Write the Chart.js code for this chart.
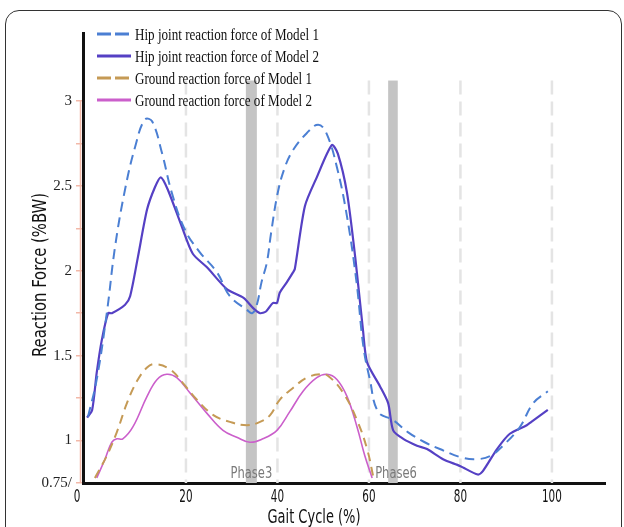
<!DOCTYPE html>
<html>
<head>
<meta charset="utf-8">
<script src="https://cdn.jsdelivr.net/npm/chart.js@4/dist/chart.umd.min.js"></script>
<style>
  html, body { margin: 0; padding: 0; background: #fff; }
  #wrap { position: relative; width: 624px; height: 527px; overflow: hidden; }
  #frame { position: absolute; left: 5px; top: 10px; width: 615px; height: 540px;
           border: 1.5px solid #333; border-radius: 14px; pointer-events: none; }
</style>
</head>
<body>
<div id="wrap">
  <canvas id="chart" width="624" height="527"></canvas>
  <div id="frame"></div>
</div>
<script>
// gait cycle (%) and reaction force (%BW)
var hip1X = [-1.4, 0.5, 2.7, 4.5, 6.7, 8.9, 11.0, 12.6, 14.8, 16.9, 19.8, 23.0, 26.8, 29.6, 33.3, 34.5, 35.5, 36.5, 37.7, 38.6, 40.0, 41.5, 43.4, 46.4, 48.9, 50.7, 53.0, 55.2, 57.3, 58.8, 60.2, 62.0, 65.3, 68.5, 72.2, 75.5, 80.3, 83.5, 86.6, 89.3, 93.0, 95.9, 99.1];
var hip1Y = [1.14, 1.36, 1.75, 2.14, 2.48, 2.73, 2.89, 2.88, 2.69, 2.46, 2.24, 2.11, 1.99, 1.85, 1.77, 1.75, 1.80, 1.93, 2.05, 2.22, 2.45, 2.60, 2.71, 2.81, 2.86, 2.81, 2.61, 2.32, 1.93, 1.55, 1.36, 1.17, 1.12, 1.05, 0.99, 0.95, 0.90, 0.89, 0.91, 0.97, 1.08, 1.22, 1.29];

var hip2X = [-1.6, -0.5, 0.5, 1.6, 3.0, 3.8, 6.7, 7.8, 9.5, 11.5, 13.2, 14.5, 16.0, 19.1, 21.5, 24.6, 29.0, 32.6, 34.7, 36.2, 37.5, 39.0, 39.9, 40.5, 42.0, 43.4, 43.8, 46.0, 48.6, 51.9, 53.2, 55.2, 57.0, 58.7, 59.6, 62.4, 64.2, 65.3, 67.5, 70.5, 72.7, 76.2, 79.9, 83.8, 84.9, 88.0, 90.8, 94.5, 95.5, 99.1];
var hip2Y = [1.135, 1.18, 1.40, 1.59, 1.75, 1.75, 1.80, 1.85, 2.08, 2.36, 2.49, 2.55, 2.48, 2.26, 2.10, 2.02, 1.89, 1.84, 1.78, 1.75, 1.76, 1.81, 1.81, 1.87, 1.93, 1.99, 2.01, 2.38, 2.55, 2.74, 2.69, 2.46, 2.08, 1.65, 1.46, 1.32, 1.22, 1.06, 1.01, 0.97, 0.95, 0.89, 0.85, 0.80, 0.82, 0.95, 1.04, 1.09, 1.11, 1.18];

var grf1X = [0.1, 2.7, 4.9, 7.1, 9.3, 11.5, 13.2, 16.5, 19.3, 22.4, 26.0, 29.6, 33.3, 36.2, 38.4, 40.5, 43.4, 46.4, 49.3, 51.1, 54.4, 57.4, 59.6, 61.0];
var grf1Y = [0.78, 0.91, 1.05, 1.22, 1.35, 1.43, 1.45, 1.42, 1.34, 1.24, 1.15, 1.11, 1.09, 1.11, 1.15, 1.24, 1.31, 1.37, 1.39, 1.38, 1.28, 1.12, 0.95, 0.78];

var grf2X = [0.5, 2.3, 3.8, 4.9, 6.2, 8.4, 11.5, 13.7, 15.8, 18.0, 20.9, 24.6, 28.1, 31.1, 34.0, 36.8, 39.9, 42.7, 45.6, 48.6, 50.8, 53.0, 55.2, 57.4, 59.1, 60.7];
var grf2Y = [0.78, 0.89, 0.99, 1.01, 1.01, 1.08, 1.26, 1.36, 1.39, 1.37, 1.28, 1.16, 1.06, 1.02, 0.99, 1.01, 1.06, 1.17, 1.29, 1.37, 1.39, 1.36, 1.26, 1.08, 0.91, 0.78];

var seriesNames = [
    'Hip joint reaction force of Model 1',
    'Hip joint reaction force of Model 2',
    'Ground reaction force of Model 1',
    'Ground reaction force of Model 2'
];

var xTicks = [0, 20, 40, 60, 80, 100];
var yTicks = [0.75, 1, 1.5, 2, 2.5, 3];
var yTickText = ['0.75/', '1', '1.5', '2', '2.5', '3'];

var phaseNames = ['Phase3', 'Phase6'];
var phaseFrom = [33.1, 64.2];
var phaseTo = [35.5, 66.3];
var guideTop = 3.12;

function pts(xs, ys) {
    return xs.map(function (x, i) { return { x: x, y: ys[i] }; });
}

var SANS = "'Liberation Sans Narrow', 'DejaVu Sans Condensed', 'Liberation Sans', sans-serif";
var SERIF = "'Liberation Serif', 'DejaVu Serif', serif";

// the source figure is horizontally squeezed, so text is drawn narrowed
function squeezedText(ctx, text, x, y, font, color, align, sx, rot) {
    ctx.save();
    ctx.translate(x, y);
    if (rot) ctx.rotate(rot);
    ctx.scale(sx, 1);
    ctx.font = font;
    ctx.fillStyle = color;
    ctx.textAlign = align;
    ctx.textBaseline = 'alphabetic';
    ctx.fillText(text, 0, 0);
    ctx.restore();
}

var decor = {
    id: 'decor',
    beforeDatasetsDraw: function (chart) {
        var ctx = chart.ctx, xs = chart.scales.x, ys = chart.scales.y, area = chart.chartArea;
        var top = ys.getPixelForValue(guideTop);
        ctx.save();
        // phase bands
        ctx.fillStyle = '#c4c4c4';
        for (var i = 0; i < phaseNames.length; i++) {
            var a = xs.getPixelForValue(phaseFrom[i]), b = xs.getPixelForValue(phaseTo[i]);
            ctx.fillRect(a, top, b - a, area.bottom - top);
        }
        // dashed vertical guides
        ctx.strokeStyle = '#e4e4e4';
        ctx.lineWidth = 2.5;
        ctx.setLineDash([14, 7]);
        xTicks.forEach(function (v) {
            if (v <= 0) return;
            var px = xs.getPixelForValue(v);
            ctx.beginPath();
            ctx.moveTo(px, top);
            ctx.lineTo(px, area.bottom);
            ctx.stroke();
        });
        ctx.restore();
        // phase labels
        squeezedText(ctx, phaseNames[0], (xs.getPixelForValue(phaseFrom[0]) + xs.getPixelForValue(phaseTo[0])) / 2,
            area.bottom - 5, '16px ' + SANS, '#7a7a7a', 'center', 0.8);
        squeezedText(ctx, phaseNames[1], xs.getPixelForValue(phaseFrom[1]) - 13,
            area.bottom - 5, '16px ' + SANS, '#7a7a7a', 'left', 0.8);
    },
    afterDraw: function (chart) {
        var ctx = chart.ctx, xs = chart.scales.x, ys = chart.scales.y, area = chart.chartArea;
        ctx.save();
        // thin salmon rule beside the y axis
        ctx.strokeStyle = '#f2b8a8';
        ctx.lineWidth = 1.5;
        ctx.beginPath();
        ctx.moveTo(area.left - 2.5, ys.getPixelForValue(3));
        ctx.lineTo(area.left - 2.5, area.bottom);
        ctx.stroke();
        ctx.restore();

        // x tick labels, narrowed; the "0" sits beside the y axis like in the source
        xs.ticks.forEach(function (t) {
            var px = t.value === 0 ? area.left - 6 : xs.getPixelForValue(t.value);
            squeezedText(ctx, String(t.value), px, area.bottom + 19, '17px ' + SANS, '#111', 'center', 0.68);
        });

        // axis titles
        squeezedText(ctx, 'Gait Cycle (%)', chart.width / 2 + 2, area.bottom + 40, '19px ' + SANS, '#111', 'center', 0.76);
        squeezedText(ctx, 'Reaction Force (%BW)', 46, 275, '19px ' + SANS, '#111', 'center', 0.87, -Math.PI / 2);

        // legend
        chart.data.datasets.forEach(function (ds, i) {
            var y = 34 + i * 22;
            ctx.save();
            ctx.strokeStyle = ds.borderColor;
            ctx.lineWidth = 3;
            ctx.setLineDash(ds.borderDash && ds.borderDash.length ? [14, 4] : []);
            ctx.beginPath();
            ctx.moveTo(97, y);
            ctx.lineTo(131, y);
            ctx.stroke();
            ctx.restore();
            squeezedText(ctx, ds.label, 135, y + 6, '17px ' + SERIF, '#111', 'left', 0.77);
        });
    }
};

var ctx = document.getElementById('chart').getContext('2d');

new Chart(ctx, {
    type: 'line',
    data: {
        datasets: [{
            label: seriesNames[0],
            data: pts(hip1X, hip1Y),
            borderColor: '#4b7fd3',
            borderWidth: 2,
            borderDash: [10, 6],
            tension: 0.4
        }, {
            label: seriesNames[1],
            data: pts(hip2X, hip2Y),
            borderColor: '#5540c4',
            borderWidth: 2.2,
            tension: 0.25
        }, {
            label: seriesNames[2],
            data: pts(grf1X, grf1Y),
            borderColor: '#c59a55',
            borderWidth: 2,
            borderDash: [9, 6],
            tension: 0.4
        }, {
            label: seriesNames[3],
            data: pts(grf2X, grf2Y),
            borderColor: '#cb5fcb',
            borderWidth: 1.6,
            tension: 0.4
        }]
    },
    options: {
        responsive: false,
        animation: false,
        layout: { padding: { top: 33, right: 19, left: 0, bottom: 0 } },
        elements: { point: { radius: 0 } },
        plugins: { legend: { display: false }, tooltip: { enabled: false } },
        scales: {
            x: {
                type: 'linear',
                min: -2.5,
                max: 111.6,
                afterBuildTicks: function (s) {
                    s.ticks = xTicks.map(function (v) { return { value: v }; });
                },
                afterFit: function (s) { s.height = 44; },
                grid: { display: false, drawTicks: false },
                border: { color: '#111', width: 3 },
                ticks: { display: false }
            },
            y: {
                min: 0.75,
                max: 3.4,
                afterBuildTicks: function (s) {
                    var t = [];
                    for (var v = 0.75; v <= 3.001; v += 0.25) t.push({ value: v });
                    s.ticks = t;
                },
                afterFit: function (s) { s.width = 83; },
                grid: { display: true, drawOnChartArea: false, drawTicks: true, tickLength: 7, color: '#f2b8a8', lineWidth: 1.5 },
                border: { color: '#111', width: 3 },
                ticks: {
                    color: '#222',
                    padding: 4,
                    font: { family: SERIF, size: 15 },
                    callback: function (v) {
                        var k = yTicks.indexOf(Math.round(v * 100) / 100);
                        return k >= 0 ? yTickText[k] : '';
                    }
                }
            }
        }
    },
    plugins: [decor]
});
</script>
</body>
</html>
